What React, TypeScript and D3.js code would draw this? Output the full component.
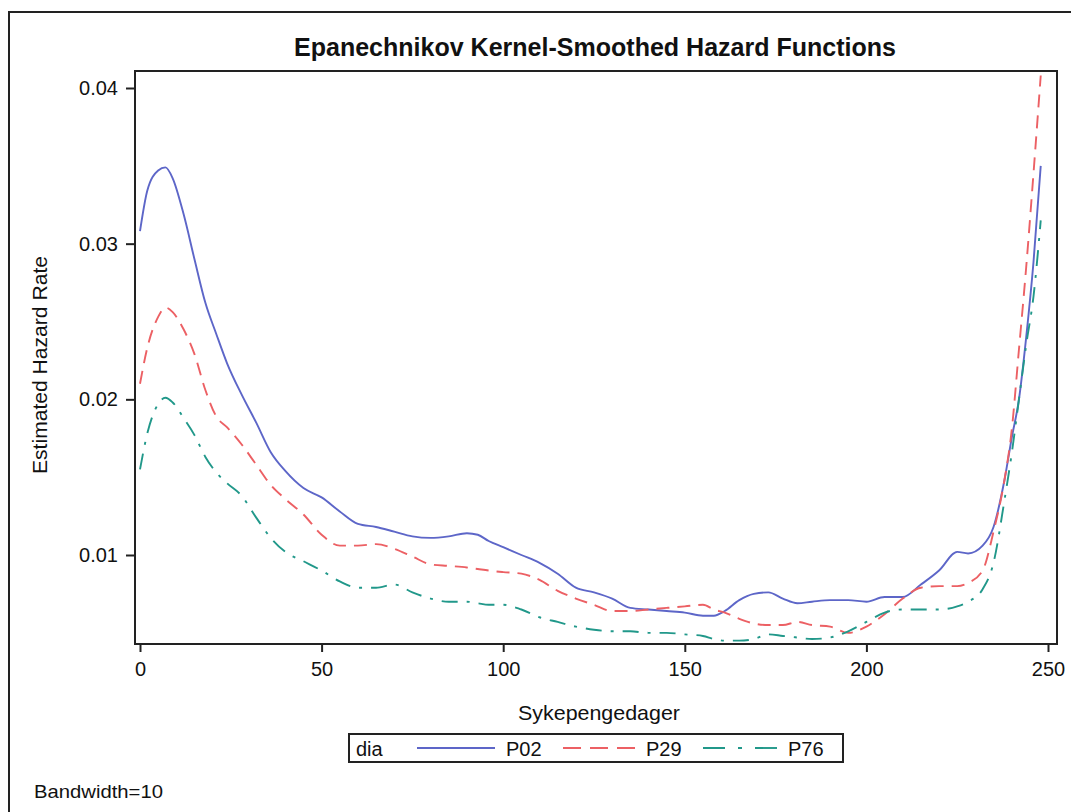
import React, { useEffect, useRef } from 'react';
import * as d3 from 'd3';

// Sykepengedager (x) sampled along the curves
const days = [0, 2, 5, 7, 9, 12, 15, 18, 21, 24, 28, 32, 36, 40, 45, 50, 55, 60, 65, 70, 75, 80, 85, 90, 93, 96, 100, 105, 110, 115, 120, 125, 130, 135, 140, 145, 150, 155, 158, 161, 165, 169, 173, 177, 181, 185, 190, 195, 200, 205, 210, 215, 220, 225, 228, 232, 235, 238, 240, 242, 244, 246, 248];

const p02 = [0.0308, 0.0334, 0.0347, 0.0349, 0.0342, 0.0319, 0.029, 0.0262, 0.0242, 0.0223, 0.0203, 0.0185, 0.0166, 0.0154, 0.0143, 0.0137, 0.0128, 0.012, 0.0118, 0.0115, 0.0112, 0.0111, 0.0112, 0.0114, 0.0113, 0.0109, 0.0105, 0.01, 0.0095, 0.0088, 0.0079, 0.0076, 0.0072, 0.0066, 0.0065, 0.0064, 0.0063, 0.0061, 0.0061, 0.0064, 0.0071, 0.0075, 0.0076, 0.0072, 0.0069, 0.007, 0.0071, 0.0071, 0.007, 0.0073, 0.0073, 0.0081, 0.009, 0.0102, 0.0101, 0.0106, 0.0118, 0.0148, 0.0175, 0.02, 0.024, 0.0288, 0.035];

const p29 = [0.021, 0.0233, 0.0253, 0.0259, 0.0256, 0.0245, 0.0229, 0.0206, 0.0189, 0.0182, 0.0171, 0.0158, 0.0145, 0.0136, 0.0126, 0.0113, 0.0106, 0.0106, 0.0107, 0.0104, 0.0099, 0.0094, 0.0093, 0.0092, 0.0091, 0.009, 0.0089, 0.0088, 0.0084, 0.0077, 0.0072, 0.0068, 0.0064, 0.0064, 0.0065, 0.0066, 0.0067, 0.0068, 0.0065, 0.0063, 0.0059, 0.0056, 0.0055, 0.0055, 0.0057, 0.0055, 0.0054, 0.005, 0.0054, 0.0062, 0.0072, 0.0079, 0.008, 0.008, 0.0082, 0.009, 0.0115, 0.0148, 0.018, 0.0232, 0.0285, 0.0345, 0.0408];

const p76 = [0.0155, 0.0178, 0.0197, 0.0201, 0.0198, 0.0188, 0.0177, 0.0163, 0.0153, 0.0146, 0.0138, 0.0124, 0.0111, 0.0102, 0.0096, 0.009, 0.0083, 0.0079, 0.0079, 0.0081, 0.0076, 0.0072, 0.007, 0.007, 0.0069, 0.0068, 0.0068, 0.0065, 0.006, 0.0057, 0.0054, 0.0052, 0.0051, 0.0051, 0.005, 0.005, 0.0049, 0.0048, 0.0046, 0.0045, 0.0045, 0.0046, 0.0049, 0.0048, 0.0047, 0.0046, 0.0047, 0.0051, 0.0057, 0.0063, 0.0065, 0.0065, 0.0065, 0.0067, 0.007, 0.0078, 0.0095, 0.0135, 0.0165, 0.02, 0.0235, 0.0266, 0.0315];

const xTicks = [0, 50, 100, 150, 200, 250];
const yTicks = [0.01, 0.02, 0.03, 0.04];

const seriesNames = ['P02', 'P29', 'P76'];
const seriesValues = [p02, p29, p76];
const colors = ['#5d66c8', '#ec6064', '#21988a'];
const dashes = ['none', '13,8', '16,9,3,9'];

const W = 1071;
const H = 812;
const plot = { left: 135, right: 1057, top: 71, bottom: 644 };
const font = 'Arial, "Liberation Sans", Helvetica, sans-serif';

const App: React.FC = () => {
  const svgRef = useRef<SVGSVGElement>(null);

  useEffect(() => {
    if (!svgRef.current) return;
    const svg = d3.select(svgRef.current);
    svg.selectAll('*').remove();

    const x = d3.scaleLinear().domain([0, 250]).range([140, 1048]);
    const y = d3.scaleLinear().domain([0.01, 0.04]).range([555, 88]);

    // outer frame
    svg.append('rect')
      .attr('x', 9).attr('y', 12)
      .attr('width', W + 10).attr('height', H + 20)
      .attr('fill', '#fff')
      .attr('stroke', '#222').attr('stroke-width', 2);

    // title
    svg.append('text')
      .attr('x', 595).attr('y', 56)
      .attr('text-anchor', 'middle')
      .attr('font-family', font).attr('font-size', 25).attr('font-weight', 'bold')
      .attr('fill', '#111')
      .attr('textLength', 602).attr('lengthAdjust', 'spacingAndGlyphs')
      .text('Epanechnikov Kernel-Smoothed Hazard Functions');

    // clip for curves
    svg.append('clipPath').attr('id', 'plotclip')
      .append('rect')
      .attr('x', plot.left).attr('y', plot.top)
      .attr('width', plot.right - plot.left).attr('height', plot.bottom - plot.top);

    const line = d3.line<number>()
      .x((_, i) => x(days[i]))
      .y(d => y(d))
      .curve(d3.curveMonotoneX);

    const curves = svg.append('g').attr('clip-path', 'url(#plotclip)');
    seriesValues.forEach((vals, k) => {
      curves.append('path')
        .datum(vals)
        .attr('d', line)
        .attr('fill', 'none')
        .attr('stroke', colors[k])
        .attr('stroke-width', 1.9)
        .attr('stroke-dasharray', dashes[k]);
    });

    // plot frame
    svg.append('rect')
      .attr('x', plot.left).attr('y', plot.top)
      .attr('width', plot.right - plot.left).attr('height', plot.bottom - plot.top)
      .attr('fill', 'none')
      .attr('stroke', '#222').attr('stroke-width', 2);

    // axes
    const yAxis = svg.append('g')
      .attr('transform', `translate(${plot.left},0)`)
      .call(d3.axisLeft(y).tickValues(yTicks).tickFormat(d3.format('.2f')).tickSize(9).tickPadding(8));
    yAxis.select('.domain').remove();
    yAxis.selectAll('.tick line').attr('stroke', '#222').attr('stroke-width', 2);
    yAxis.selectAll('.tick text')
      .attr('font-family', font).attr('font-size', 20).attr('fill', '#111');

    const xAxis = svg.append('g')
      .attr('transform', `translate(0,${plot.bottom})`)
      .call(d3.axisBottom(x).tickValues(xTicks).tickFormat(d3.format('d')).tickSize(8).tickPadding(10));
    xAxis.select('.domain').remove();
    xAxis.selectAll('.tick line').attr('stroke', '#222').attr('stroke-width', 2);
    xAxis.selectAll('.tick text')
      .attr('font-family', font).attr('font-size', 20).attr('fill', '#111');

    // axis titles
    svg.append('text')
      .attr('x', 599).attr('y', 720)
      .attr('text-anchor', 'middle')
      .attr('font-family', font).attr('font-size', 21).attr('fill', '#111')
      .attr('textLength', 162).attr('lengthAdjust', 'spacingAndGlyphs')
      .text('Sykepengedager');

    svg.append('text')
      .attr('transform', 'translate(47,365) rotate(-90)')
      .attr('text-anchor', 'middle')
      .attr('font-family', font).attr('font-size', 21).attr('fill', '#111')
      .attr('textLength', 218).attr('lengthAdjust', 'spacingAndGlyphs')
      .text('Estimated Hazard Rate');

    // legend
    const lg = svg.append('g');
    lg.append('rect')
      .attr('x', 349).attr('y', 734).attr('width', 494).attr('height', 28)
      .attr('fill', '#fff').attr('stroke', '#222').attr('stroke-width', 2);
    lg.append('text')
      .attr('x', 356).attr('y', 756)
      .attr('font-family', font).attr('font-size', 20).attr('fill', '#111')
      .text('dia');
    const legendX = [417, 563, 703];
    const legendTextX = [506, 646, 788];
    seriesNames.forEach((name, k) => {
      lg.append('line')
        .attr('x1', legendX[k]).attr('x2', legendX[k] + 78)
        .attr('y1', 748).attr('y2', 748)
        .attr('stroke', colors[k]).attr('stroke-width', 1.9)
        .attr('stroke-dasharray', k === 1 ? '18,9' : k === 2 ? '22,13,4,13' : 'none');
      lg.append('text')
        .attr('x', legendTextX[k]).attr('y', 756)
        .attr('font-family', font).attr('font-size', 20).attr('fill', '#111')
        .text(name);
    });

    // footnote
    svg.append('text')
      .attr('x', 34).attr('y', 798)
      .attr('font-family', font).attr('font-size', 19).attr('fill', '#111')
      .attr('textLength', 129).attr('lengthAdjust', 'spacingAndGlyphs')
      .text('Bandwidth=10');
  }, []);

  return (
    <svg
      ref={svgRef}
      width={W}
      height={H}
      style={{ position: 'absolute', left: 0, top: 0, background: '#fff' }}
    />
  );
};

export default App;
